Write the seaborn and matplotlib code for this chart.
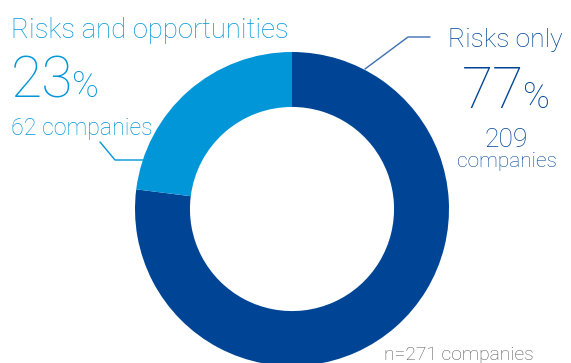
import matplotlib
matplotlib.use("Agg")
import matplotlib.pyplot as plt
import seaborn as sns

sns.set_theme(style="white")
plt.rcParams["font.family"] = ["Roboto", "DejaVu Sans"]

# Disclosure split among reporting companies
categories = ["Risks only", "Risks and opportunities"]
shares = [77, 23]
counts = [209, 62]
total = 271
colors = ["#004595", "#0096d8"]

W, H = 571, 363
fig = plt.figure(figsize=(W / 100, H / 100), dpi=100)
ax = fig.add_axes([0, 0, 1, 1])

cx, cy, r = 292, H - 209, 157
ax.pie(shares, colors=colors, startangle=90, counterclock=False,
       radius=r, center=(cx, cy), frame=True,
       wedgeprops=dict(width=r * 0.35, linewidth=0))
ax.set_xlim(0, W)
ax.set_ylim(0, H)
ax.set_aspect("equal")
ax.axis("off")

renderer = fig.canvas.get_renderer()


def y(p):
    return H - p


def pct(x, base, value, color, size, psize, gap):
    """Large number followed by a smaller percent sign on the same baseline."""
    t = ax.text(x, y(base), f"{value}", color=color, fontsize=size,
                fontweight="light", ha="left", va="baseline")
    bb = t.get_window_extent(renderer)
    x1 = ax.transData.inverted().transform((bb.x1, bb.y0))[0]
    ax.text(x1 + gap, y(base), "%", color=color, fontsize=psize,
            fontweight="light", ha="left", va="baseline")


dark, light = colors
# Left annotation: risks and opportunities
ax.text(11, y(38), categories[1], color=light, fontsize=19.8, fontweight="light",
        ha="left", va="baseline")
pct(11, 97, shares[1], light, 41, 26, -1)
ax.text(11, y(135), f"{counts[1]} companies", color=light, fontsize=16.7,
        fontweight="light", ha="left", va="baseline")
ax.plot([100, 115, 143], [y(142), y(160), y(160)], color=light, lw=1)

# Right annotation: risks only
ax.text(563, y(47), categories[0], color=dark, fontsize=19, fontweight="light",
        ha="right", va="baseline")
pct(462, 108, shares[0], dark, 41, 26, -1)
ax.text(506, y(147), f"{counts[0]}", color=dark, fontsize=19, fontweight="light",
        ha="center", va="baseline")
ax.text(507, y(167), "companies", color=dark, fontsize=15, fontweight="light",
        ha="center", va="baseline")
ax.plot([365, 408, 430], [y(69), y(37), y(37)], color="#3d6fb3", lw=1)

ax.text(384, y(360), f"n={total} companies", color="#555555", fontsize=13.9,
        fontweight="light", ha="left", va="baseline")

fig.savefig("out.png", dpi=100)
